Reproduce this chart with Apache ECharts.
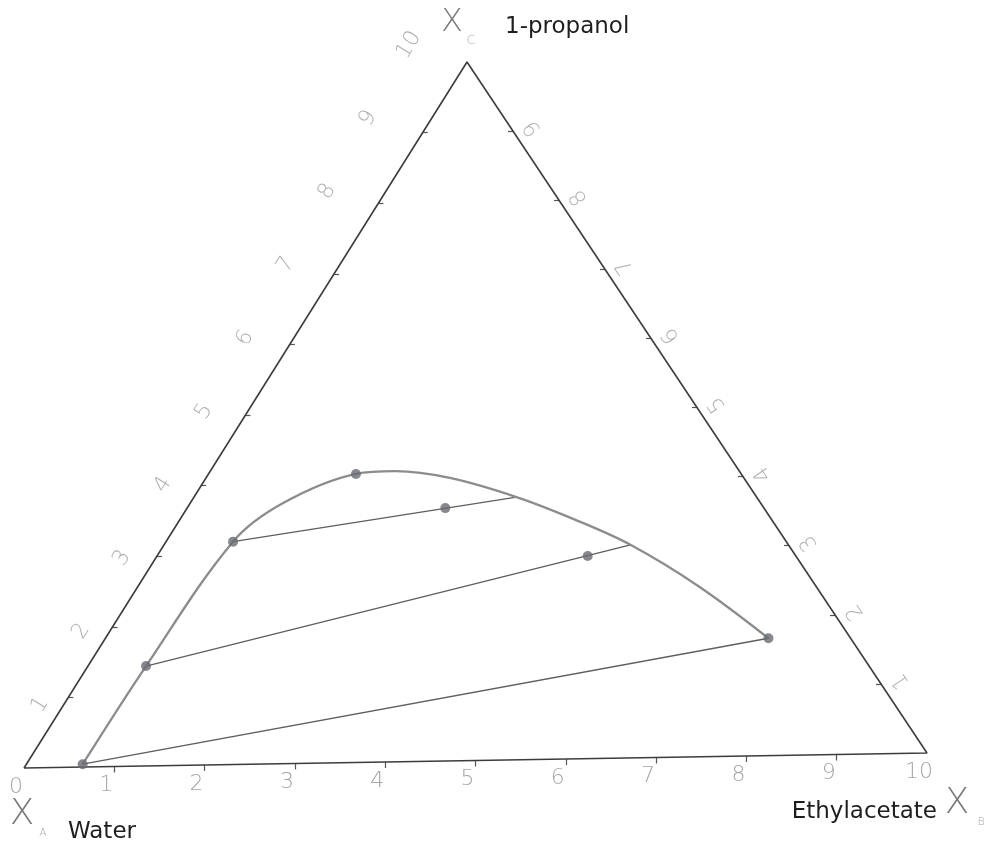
<!DOCTYPE html>
<html><head><meta charset="utf-8">
<script src="https://cdn.jsdelivr.net/npm/echarts@6/dist/echarts.min.js"></script>
<style>html,body{margin:0;padding:0;background:#fff}#c{width:990px;height:846px}</style>
</head><body><div id="c"></div>
<script>
// Compositions on a 0-10 scale: xB = ethylacetate, xC = 1-propanol (xA = water = 10 - xB - xC)
const binodalB = [0.63, 0.65, 0.75, 1.04, 1.65, 2.07, 2.73, 3.61, 4.43, 5.22, 6.29, 7.42];
const binodalC = [0.04, 1.43, 3.19, 3.73, 4.13, 4.16, 4.05, 3.76, 3.42, 3.05, 2.43, 1.68];
// measured points (dots)
const dotB = [0.63, 0.65, 0.75, 1.65, 7.42, 2.89, 4.82];
const dotC = [0.04, 1.43, 3.19, 4.13, 1.68, 3.62, 2.90];
// tie lines (raffinate end -> extract end)
const tieStartB = [0.63, 0.65, 0.75];
const tieStartC = [0.04, 1.43, 3.19];
const tieEndB = [7.42, 5.22, 3.61];
const tieEndC = [1.68, 3.05, 3.76];
// tick labels
const bottomTicks = [0, 1, 2, 3, 4, 5, 6, 7, 8, 9, 10];
const leftTicks = [1, 2, 3, 4, 5, 6, 7, 8, 9, 10];
const rightTicks = [1, 2, 3, 4, 5, 6, 7, 8, 9];

// ternary -> plane projection (matches the scanned triangle's shape)
const SX = 443 / 903, SY = 15 / 706;
const PXX = 90.3, PXY = 70.6; // pixels per plot unit (layout only)
function proj(b, c) { return [b + SX * c, c + SY * b]; }
function shift(p, dx, dy) { return [p[0] + dx / PXX, p[1] - dy / PXY]; }

const chart = echarts.init(document.getElementById('c'), null, {renderer: 'canvas'});

const digitFont = {fontFamily: 'DejaVu Sans', fontWeight: 300, fontSize: 22, color: '#9c9c9c'};

const tickCoords = [];
bottomTicks.filter(v => v > 0 && v < 10).forEach(b => {
  const p = proj(b, 0); tickCoords.push({coords: [p, shift(p, 0, 6)]});
});
leftTicks.filter(v => v < 10).forEach(c => {
  const p = proj(0, c); tickCoords.push({coords: [p, shift(p, 5, 0)]});
});
rightTicks.forEach(c => {
  const p = proj(10 - c, c); tickCoords.push({coords: [p, shift(p, -5, 0)]});
});

const labelData = [];
bottomTicks.forEach(b => labelData.push({
  value: shift(proj(b, 0), -8, 19),
  label: {formatter: String(b), rotate: 0, color: '#8e8e8e'}
}));
leftTicks.forEach(c => labelData.push({
  value: shift(proj(0, c), -25 - 3.3 * c, 10 - 2.7 * c),
  label: {formatter: String(c), rotate: 58}
}));
rightTicks.forEach(c => labelData.push({
  value: shift(proj(10 - c, c), 20, -3),
  label: {formatter: String(c), rotate: 124}
}));

const triangle = [proj(0, 0), proj(10, 0), proj(0, 10), proj(0, 0)];

function txt(x, y, text, font, fill, align) {
  return {type: 'text', silent: true, style: {x: x, y: y, text: text, font: font, fill: fill,
    align: align, verticalAlign: 'middle', textAlign: align, textVerticalAlign: 'middle'}};
}

const option = {
  animation: false,
  backgroundColor: '#ffffff',
  grid: {left: 24, right: 63, top: 62, bottom: 78, containLabel: false, outerBoundsMode: 'none'},
  xAxis: {type: 'value', min: 0, max: 10, show: false},
  yAxis: {type: 'value', min: 0, max: 10, show: false},
  series: [
    {type: 'line', data: triangle, symbol: 'none', silent: true, clip: false,
     lineStyle: {color: '#3c3c3c', width: 1.6}, z: 2},
    {type: 'lines', coordinateSystem: 'cartesian2d', data: tickCoords, silent: true, clip: false,
     lineStyle: {color: '#555', width: 1.2, opacity: 1, curveness: 0}, z: 2},
    {type: 'lines', coordinateSystem: 'cartesian2d', silent: true, clip: false,
     data: tieStartB.map((b, i) => ({coords: [proj(b, tieStartC[i]), proj(tieEndB[i], tieEndC[i])]})),
     lineStyle: {color: '#5e5e5e', width: 1.3, opacity: 1, curveness: 0}, z: 3},
    {type: 'line', data: binodalB.map((b, i) => proj(b, binodalC[i])), smooth: 0.35, clip: false,
     symbol: 'none', silent: true, lineStyle: {color: '#8c8c8c', width: 2.3}, z: 4},
    {type: 'scatter', data: dotB.map((b, i) => proj(b, dotC[i])), symbolSize: 10, clip: false,
     itemStyle: {color: '#666a70'}, silent: true, z: 5},
    {type: 'scatter', data: labelData, symbolSize: 0, silent: true, z: 6, clip: false,
     label: Object.assign({show: true, position: 'inside'}, digitFont)}
  ],
  graphic: [
    txt(22, 815, 'X', '200 36px "DejaVu Sans"', '#7a7a7a', 'center'),
    txt(43, 833, 'A', '200 11px "DejaVu Sans"', '#aaaaaa', 'center'),
    txt(68, 832, 'Water', '23px "DejaVu Sans"', '#1e1e1e', 'left'),
    txt(937, 812, 'Ethylacetate', '23px "DejaVu Sans"', '#1e1e1e', 'right'),
    txt(957, 804, 'X', '200 36px "DejaVu Sans"', '#7a7a7a', 'center'),
    txt(981, 822, 'B', '200 11px "DejaVu Sans"', '#aaaaaa', 'center'),
    txt(452, 23, 'X', '200 32px "DejaVu Sans"', '#7a7a7a', 'center'),
    txt(471, 41, 'C', '200 13px "DejaVu Sans"', '#aaaaaa', 'center'),
    txt(505, 27, '1-propanol', '23px "DejaVu Sans"', '#1e1e1e', 'left')
  ]
};
chart.setOption(option);
</script>
</body></html>
